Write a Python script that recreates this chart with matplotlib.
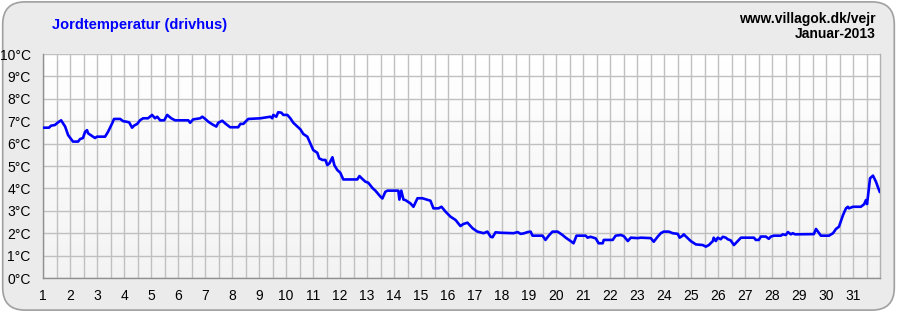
import numpy as np
import matplotlib.pyplot as plt
from matplotlib.patches import FancyBboxPatch

plt.rcParams['font.family'] = ['Liberation Sans', 'DejaVu Sans']

# ── data: day of month (fractional) and soil temperature in °C ──
days = [
    1.00, 1.22, 1.30, 1.44, 1.56, 1.67, 1.82, 1.93, 2.11, 2.30, 2.37, 2.48,
    2.56, 2.63, 2.67, 2.85, 2.93, 3.00, 3.30, 3.41, 3.56, 3.63, 3.86, 3.97,
    4.08, 4.19, 4.30, 4.37, 4.49, 4.60, 4.71, 4.89, 5.04, 5.15, 5.23, 5.34,
    5.49, 5.60, 5.75, 5.89, 6.38, 6.45, 6.56, 6.82, 6.90, 7.01, 7.12, 7.27,
    7.42, 7.49, 7.64, 7.75, 7.93, 8.23, 8.31, 8.42, 8.60, 9.05, 9.42, 9.49,
    9.53, 9.64, 9.71, 9.83, 9.90, 10.05, 10.16, 10.27, 10.42, 10.53, 10.64,
    10.79, 10.90, 11.01, 11.16, 11.23, 11.35, 11.46, 11.53, 11.61, 11.72,
    11.79, 11.90, 12.01, 12.12, 12.64, 12.72, 12.83, 12.94, 13.05, 13.20,
    13.31, 13.50, 13.57, 13.68, 13.76, 14.16, 14.20, 14.27, 14.35, 14.42,
    14.61, 14.72, 14.87, 15.05, 15.16, 15.35, 15.46, 15.65, 15.76, 15.91,
    16.09, 16.28, 16.46, 16.57, 16.72, 16.91, 17.09, 17.32, 17.46, 17.58,
    17.65, 17.76, 17.95, 18.43, 18.58, 18.69, 18.80, 18.95, 19.06, 19.13,
    19.50, 19.61, 19.73, 19.87, 20.06, 20.24, 20.36, 20.54, 20.65, 20.76,
    21.10, 21.17, 21.28, 21.47, 21.58, 21.73, 21.77, 22.10, 22.21, 22.40,
    22.51, 22.66, 22.77, 23.03, 23.14, 23.51, 23.62, 23.77, 23.88, 23.99,
    24.18, 24.32, 24.51, 24.58, 24.69, 24.73, 24.88, 24.99, 25.18, 25.44,
    25.55, 25.66, 25.81, 25.84, 25.92, 25.99, 26.10, 26.18, 26.29, 26.36,
    26.47, 26.59, 26.73, 26.85, 27.33, 27.40, 27.51, 27.59, 27.77, 27.88,
    27.96, 28.07, 28.33, 28.40, 28.51, 28.59, 28.70, 28.77, 28.85, 29.55,
    29.63, 29.70, 29.81, 30.11, 30.26, 30.37, 30.48, 30.63, 30.74, 30.81,
    30.85, 31.00, 31.29, 31.41, 31.48, 31.52, 31.55, 31.63, 31.74, 31.85,
    31.93, 31.99,
]
temps = [
    6.71, 6.71, 6.80, 6.83, 6.95, 7.04, 6.76, 6.38, 6.09, 6.09, 6.20, 6.25,
    6.53, 6.60, 6.46, 6.31, 6.25, 6.31, 6.31, 6.53, 6.90, 7.10, 7.10, 7.00,
    6.98, 6.95, 6.71, 6.80, 6.88, 7.05, 7.13, 7.13, 7.28, 7.13, 7.20, 7.04,
    7.04, 7.28, 7.13, 7.04, 7.04, 6.93, 7.08, 7.13, 7.20, 7.10, 6.98, 6.86,
    6.76, 6.93, 7.02, 6.90, 6.73, 6.73, 6.88, 6.88, 7.10, 7.13, 7.20, 7.13,
    7.28, 7.20, 7.40, 7.38, 7.28, 7.28, 7.13, 6.93, 6.76, 6.64, 6.43,
    6.31, 6.01, 5.71, 5.59, 5.34, 5.27, 5.27, 5.04, 5.12, 5.39,
    5.04, 4.82, 4.70, 4.40, 4.40, 4.55, 4.42, 4.30, 4.25, 4.02,
    3.90, 3.63, 3.55, 3.85, 3.90, 3.90, 3.50, 3.90, 3.50, 3.48,
    3.33, 3.18, 3.56, 3.56, 3.52, 3.45, 3.11, 3.11, 3.18, 2.96,
    2.74, 2.59, 2.32, 2.41, 2.47, 2.22, 2.07, 2.00, 2.07, 1.84,
    1.82, 2.04, 2.02, 2.00, 2.05, 1.97, 1.99, 2.05, 2.07, 1.89,
    1.89, 1.70, 1.89, 2.07, 2.07, 1.92, 1.80, 1.65, 1.55, 1.89,
    1.89, 1.80, 1.84, 1.77, 1.55, 1.55, 1.70, 1.70, 1.89, 1.92,
    1.87, 1.65, 1.80, 1.78, 1.80, 1.78, 1.62, 1.85, 2.00, 2.07,
    2.07, 2.00, 1.97, 1.80, 1.89, 1.95, 1.78, 1.65, 1.50, 1.47,
    1.40, 1.47, 1.65, 1.80, 1.65, 1.80, 1.73, 1.84, 1.80, 1.73,
    1.68, 1.47, 1.65, 1.80, 1.80, 1.70, 1.70, 1.85, 1.85, 1.75,
    1.85, 1.89, 1.89, 1.95, 1.92, 2.05, 1.95, 2.00, 1.95, 1.96,
    2.19, 2.07, 1.89, 1.89, 2.00, 2.19, 2.29, 2.81, 3.11, 3.18,
    3.11, 3.18, 3.18, 3.29, 3.48, 3.30, 3.60, 4.45, 4.57, 4.30,
    4.03, 3.85,
]
day_ticks = list(range(1, 32))
temp_ticks = list(range(0, 11))
temp_labels = [f"{t}°C" for t in temp_ticks]

title = "Jordtemperatur (drivhus)"
site = "www.villagok.dk/vejr"
period = "Januar-2013"

# ── figure ──
fig = plt.figure(figsize=(8.97, 3.12), dpi=100)
fig.patch.set_facecolor("white")
frame = FancyBboxPatch((0.003, 0.006), 0.994, 0.988, transform=fig.transFigure,
                       boxstyle="round,pad=0,rounding_size=0.025",
                       facecolor="#ebebeb", edgecolor="#a0a0a0", linewidth=1.2,
                       mutation_aspect=897 / 312, zorder=-10)
fig.patches.append(frame)

ax = fig.add_axes([43 / 897, 34 / 312, 837 / 897, 224 / 312])
ax.set_zorder(1)
ax.patch.set_alpha(0)

# vertical gradient inside the plot area
grad = np.linspace(1, 0, 256).reshape(-1, 1)
ax.imshow(grad, extent=(1, 32, 0, 10), aspect="auto", cmap="Greys_r",
          vmin=-9, vmax=1, zorder=0, origin="upper")

ax.plot(days, temps, color="#0000ff", linewidth=1.9, zorder=3,
        solid_joinstyle="round")

ax.set_xlim(1, 32)
ax.set_ylim(0, 10)
ax.set_xticks(day_ticks)
ax.set_xticks(np.arange(1.5, 32, 1), minor=True)
ax.set_yticks(temp_ticks)
ax.set_yticklabels(temp_labels)
ax.tick_params(axis="both", length=0, labelsize=10, colors="black")
ax.tick_params(axis="x", pad=8)
ax.tick_params(axis="y", pad=9)
ax.tick_params(which="minor", length=0)
ax.grid(True, which="both", color="#c0c0c0", linewidth=1.0)
for gl in ax.get_xgridlines() + ax.get_ygridlines() + \
        ax.xaxis.get_minorticklines():
    gl.set_zorder(1)

ax.spines["top"].set_visible(False)
ax.spines["right"].set_color("#b0b0b0")
ax.spines["left"].set_color("#909090")
ax.spines["bottom"].set_color("#909090")
for s in ax.spines.values():
    s.set_linewidth(1.0)

fig.text(52 / 897, 1 - 25 / 312, title, color="#0000ff", fontsize=10.5,
         fontweight="bold", ha="left", va="center")
fig.text(876 / 897, 1 - 19 / 312, site, color="black", fontsize=10,
         fontweight="bold", ha="right", va="center")
fig.text(876 / 897, 1 - 34 / 312, period, color="black", fontsize=10,
         fontweight="bold", ha="right", va="center")

fig.savefig("out.png", dpi=100, facecolor=fig.get_facecolor())
